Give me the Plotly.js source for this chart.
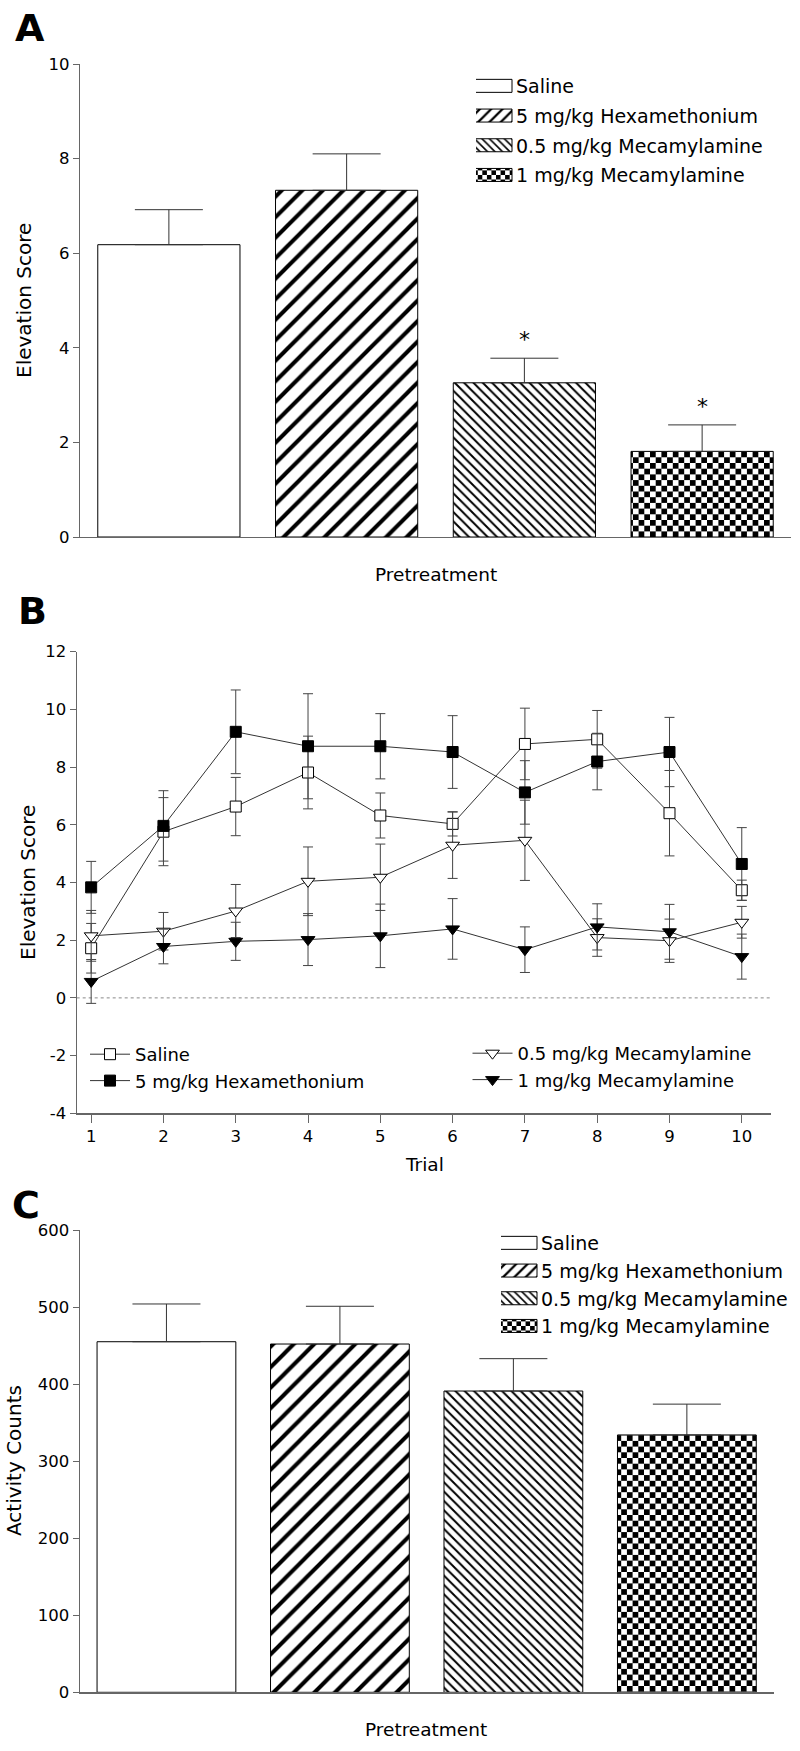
<!DOCTYPE html>
<html>
<head>
<meta charset="utf-8">
<script src="https://cdn.plot.ly/plotly-3.0.1.min.js"></script>
<style>
html,body{margin:0;padding:0;background:#fff;}
#chart{width:800px;height:1751px;}
</style>
</head>
<body>
<div id="chart"></div>
<script>
// ---------- data ----------
const groups = ['Saline', '5 mg/kg Hexamethonium', '0.5 mg/kg Mecamylamine', '1 mg/kg Mecamylamine'];
const elevationMean = [6.18, 7.33, 3.26, 1.81];
const elevationSem = [0.74, 0.77, 0.52, 0.56];
const elevationSig = [false, false, true, true];
const activityMean = [455, 452, 391, 334];
const activitySem = [49, 49, 42, 40];

const trials = [1, 2, 3, 4, 5, 6, 7, 8, 9, 10];
const salineMean = [1.72, 5.76, 6.63, 7.81, 6.32, 6.03, 8.80, 8.96, 6.40, 3.73];
const salineSem = [0.86, 1.18, 1.01, 1.26, 0.78, 0.42, 1.24, 1.00, 1.48, 0.35];
const hexMean = [3.83, 5.96, 9.22, 8.72, 8.72, 8.52, 7.12, 8.19, 8.52, 4.64];
const hexSem = [0.90, 1.22, 1.45, 1.82, 1.13, 1.26, 1.10, 0.98, 1.20, 1.26];
const mec05Mean = [2.15, 2.31, 3.01, 4.04, 4.18, 5.29, 5.46, 2.09, 1.98, 2.62];
const mec05Sem = [0.88, 0.65, 0.92, 1.19, 1.15, 1.15, 1.39, 0.65, 0.75, 0.55];
const mec1Mean = [0.57, 1.78, 1.96, 2.02, 2.15, 2.39, 1.67, 2.46, 2.29, 1.43];
const mec1Sem = [0.76, 0.60, 0.66, 0.90, 1.10, 1.05, 0.79, 0.80, 0.95, 0.78];

const elevTicksA = [0, 2, 4, 6, 8, 10];
const elevTicksB = [-4, -2, 0, 2, 4, 6, 8, 10, 12];
const activityTicks = [0, 100, 200, 300, 400, 500, 600];

// ---------- styling ----------
const W = 800, H = 1751;
const px = v => v / W;
const py = v => 1 - v / H;
const FONT = 'DejaVu Sans';
const AXC = '#666';

const barPatterns = [
  {shape: '', fgcolor: '#000', bgcolor: '#fff', fillmode: 'replace'},
  {shape: '/', fgcolor: '#000', bgcolor: '#fff', size: 14.5, solidity: 0.28, fillmode: 'replace'},
  {shape: '\\', fgcolor: '#000', bgcolor: '#fff', size: 6.6, solidity: 0.3, fillmode: 'replace'},
  {shape: '+', fgcolor: '#000', bgcolor: '#fff', size: 11.4, solidity: 0.3, fillmode: 'replace'}
];

function barTraces(means, sems, xa, ya, legendName, uidPrefix, capW) {
  return groups.map((g, i) => ({
    type: 'bar',
    x: [g], y: [means[i]],
    name: g,
    uid: uidPrefix + (i === 3 ? 'chk' : 'b' + i),
    legendgroup: uidPrefix + i,
    xaxis: xa, yaxis: ya,
    legend: legendName,
    width: 0.8,
    marker: {color: '#fff', line: {color: '#000', width: 1}, pattern: barPatterns[i]},
    error_y: {type: 'data', symmetric: false, array: [sems[i]], arrayminus: [0],
              color: '#333', thickness: 1, width: capW},
    hoverinfo: 'skip'
  }));
}

const lineSpecs = [
  {name: 'Saline', m: salineMean, s: salineSem, symbol: 'square', fill: '#fff', size: 11, legend: 'legend2'},
  {name: '5 mg/kg Hexamethonium', m: hexMean, s: hexSem, symbol: 'square', fill: '#000', size: 11, legend: 'legend2'},
  {name: '0.5 mg/kg Mecamylamine', m: mec05Mean, s: mec05Sem, symbol: 'triangle-down', fill: '#fff', size: 12, legend: 'legend3'},
  {name: '1 mg/kg Mecamylamine', m: mec1Mean, s: mec1Sem, symbol: 'triangle-down', fill: '#000', size: 12, legend: 'legend3'}
];

const lineTraces = lineSpecs.map(sp => ({
  type: 'scatter', mode: 'lines+markers',
  x: trials, y: sp.m, name: sp.name,
  xaxis: 'x2', yaxis: 'y2', legend: sp.legend,
  line: {color: '#333', width: 1},
  marker: {symbol: sp.symbol, size: sp.size, color: sp.fill, line: {color: '#000', width: 1}},
  error_y: {type: 'data', array: sp.s, visible: true, color: '#444', thickness: 1, width: 5},
  hoverinfo: 'skip'
}));

const data = [].concat(
  barTraces(elevationMean, elevationSem, 'x', 'y', 'legend', 'A', 34),
  lineTraces,
  barTraces(activityMean, activitySem, 'x3', 'y3', 'legend4', 'C', 34)
);

const tickFont = {family: FONT, size: 16.5, color: '#000'};
const catAxis = (dom, anchor) => ({
  domain: dom, anchor: anchor, type: 'category', categoryorder: 'array', categoryarray: groups,
  range: [-0.5, 3.5], showline: true, linecolor: AXC, linewidth: 1.2, ticks: '', showticklabels: false,
  showgrid: false, zeroline: false, fixedrange: true
});
const valAxis = (dom, anchor, range, ticks) => ({
  domain: dom, anchor: anchor, range: range, tickvals: ticks, ticktext: ticks.map(String),
  showline: true, linecolor: AXC, linewidth: 1.2, ticks: 'outside', ticklen: 6, tickcolor: AXC,
  tickfont: tickFont, showgrid: false, zeroline: false, fixedrange: true
});

const legendBase = {
  xanchor: 'left', yanchor: 'top', bgcolor: 'rgba(0,0,0,0)', borderwidth: 0,
  font: {family: FONT, size: 19, color: '#000'}, tracegroupgap: 0, itemclick: false, itemdoubleclick: false
};

const annText = (t, x, y, opts) => Object.assign({
  text: t, x: x, y: y, xref: 'paper', yref: 'paper', showarrow: false,
  font: {family: FONT, size: 18.5, color: '#000'}, xanchor: 'center', yanchor: 'middle'
}, opts || {});
const letterFont = {family: FONT, size: 38, color: '#000', weight: 700};
const yTitleFont = {family: FONT, size: 20, color: '#000'};

const annotations = [
  annText('A', px(30), py(28), {font: letterFont}),
  annText('B', px(32), py(611), {font: letterFont}),
  annText('C', px(26), py(1205), {font: letterFont}),
  annText('Elevation Score', px(24), py(301), {textangle: -90, font: yTitleFont}),
  annText('Pretreatment', px(435.5), py(575)),
  annText('Elevation Score', px(28), py(883), {textangle: -90, font: yTitleFont}),
  annText('Trial', px(424), py(1164)),
  annText('Activity Counts', px(14), py(1461), {textangle: -90, font: yTitleFont}),
  annText('Pretreatment', px(426), py(1729))
];
// significance asterisks
groups.forEach((g, i) => {
  if (elevationSig[i]) {
    annotations.push({
      text: '*', x: g, y: elevationMean[i] + elevationSem[i], xref: 'x', yref: 'y',
      showarrow: false, yanchor: 'bottom', yshift: 4,
      font: {family: FONT, size: 22, color: '#000'}
    });
  }
});

const layout = {
  width: W, height: H, autosize: false,
  margin: {l: 0, r: 0, t: 0, b: 0},
  paper_bgcolor: '#fff', plot_bgcolor: 'rgba(0,0,0,0)',
  font: {family: FONT, color: '#000'},
  barmode: 'overlay',
  showlegend: true,
  xaxis: catAxis([px(80), px(791)], 'y'),
  yaxis: valAxis([py(537), py(64)], 'x', [0, 10], elevTicksA),
  xaxis2: {
    domain: [px(76.7), px(770.7)], anchor: 'y2', range: [0.8, 10.4], tickvals: trials,
    showline: true, linecolor: AXC, linewidth: 1.2, ticks: 'outside', ticklen: 8, tickcolor: AXC,
    tickfont: tickFont, showgrid: false, zeroline: false, fixedrange: true
  },
  yaxis2: valAxis([py(1113.3), py(651.6)], 'x2', [-4, 12], elevTicksB),
  xaxis3: catAxis([px(79.7), px(773.6)], 'y3'),
  yaxis3: valAxis([py(1692.3), py(1230)], 'x3', [0, 600], activityTicks),
  legend: Object.assign({}, legendBase, {x: px(476), y: py(67), tracegroupgap: 2}),
  legend2: Object.assign({}, legendBase, {x: px(85), y: py(1036), itemwidth: 40, font: {family: FONT, size: 18, color: '#000'}}),
  legend3: Object.assign({}, legendBase, {x: px(467.5), y: py(1035), itemwidth: 40, font: {family: FONT, size: 18, color: '#000'}}),
  legend4: Object.assign({}, legendBase, {x: px(501), y: py(1224)}),
  shapes: [{
    type: 'line', xref: 'x2 domain', yref: 'y2', x0: 0, x1: 1, y0: 0, y1: 0,
    line: {color: '#888', width: 1, dash: 'dot'}, layer: 'below'
  }],
  annotations: annotations
};

function restyleDom(gd) {
  const NS = 'http://www.w3.org/2000/svg';
  const cell = 5.7;
  gd.querySelectorAll('pattern').forEach(p => {
    if (p.id.indexOf('chk') === -1) return;
    while (p.firstChild) p.removeChild(p.firstChild);
    p.setAttribute('width', 2 * cell);
    p.setAttribute('height', 2 * cell);
    const mk = (x, y, w, h, f) => {
      const r = document.createElementNS(NS, 'rect');
      r.setAttribute('x', x); r.setAttribute('y', y);
      r.setAttribute('width', w); r.setAttribute('height', h);
      r.setAttribute('fill', f);
      p.appendChild(r);
    };
    mk(0, 0, 2 * cell, 2 * cell, '#fff');
    mk(0, 0, cell, cell, '#000');
    mk(cell, cell, cell, cell, '#000');
  });
  // wide rectangular legend swatches for the bar legends
  gd.querySelectorAll('g.legendpoints path').forEach(p => {
    const d = (p.getAttribute('d') || '').replace(/\s/g, '');
    if (d === 'M6,6H-6V-6H6Z') p.setAttribute('d', 'M16,6.5H-32V-6.5H16Z');
  });
}

Plotly.newPlot('chart', data, layout, {staticPlot: true, displayModeBar: false})
  .then(gd => restyleDom(gd));
</script>
</body>
</html>
